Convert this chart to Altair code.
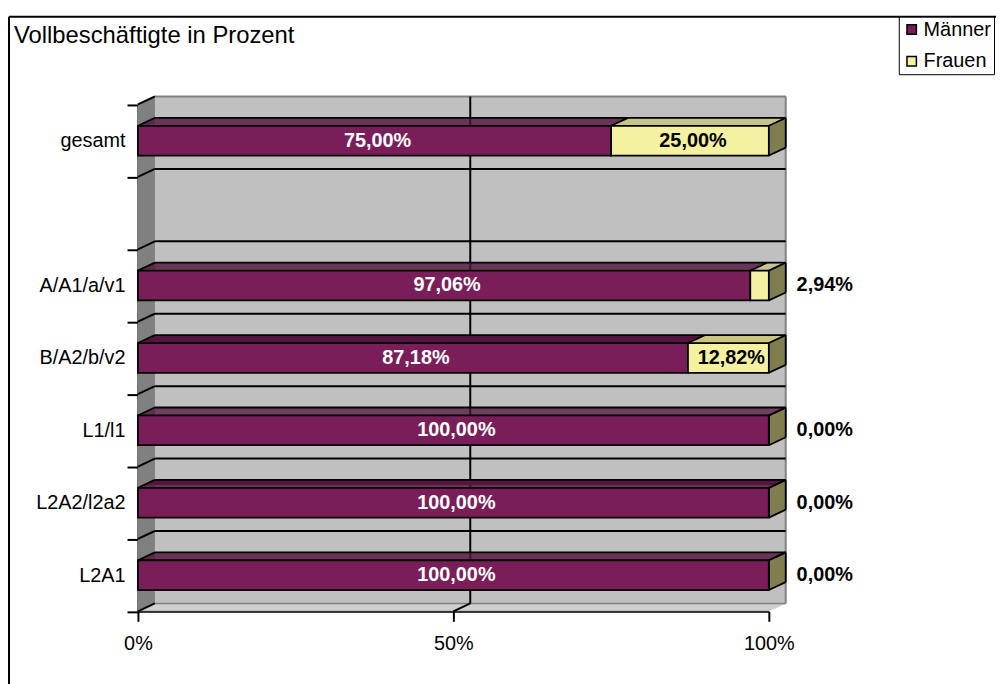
import altair as alt
import pandas as pd

# ---------------- data ----------------
categories = ["gesamt", " ", "A/A1/a/v1", "B/A2/b/v2", "L1/l1", "L2A2/l2a2", "L2A1"]
maenner = [75.00, None, 97.06, 87.18, 100.00, 100.00, 100.00]
frauen = [25.00, None, 2.94, 12.82, 0.00, 0.00, 0.00]
series = ["Männer", "Frauen"]
x_ticks = [0, 0.5, 1]
title_text = "Vollbeschäftigte in Prozent"

# ---------------- styles ----------------
FONT = "Liberation Sans"
C_M, C_M_TOP = "#7a1e5a", "#561440"
C_F, C_F_TOP, C_F_SIDE = "#f4f1a0", "#c9c67e", "#807f50"
WALL, SIDE, EDGE = "#c0c0c0", "#808080", "#808080"
DX, DY = 17, 8      # 3-D depth offset in px
HALF = 15           # half bar thickness in px
N = len(categories)

rows = []
for i, (cat, m, f) in enumerate(zip(categories, maenner, frauen)):
    if m is None:
        continue
    start = 0.0
    for s, v in zip(series, [m, f]):
        rows.append(dict(cat=cat, c=i + 0.5, series=s, xs=start / 100, xe=(start + v) / 100,
                         xm=(start + v / 2) / 100, w=v / 100,
                         label=f"{v:.2f}".replace(".", ",") + "%"))
        start += v
segs = pd.DataFrame(rows)
bounds = pd.DataFrame({"b": list(range(N + 1))})
one = pd.DataFrame({"k": [0]})
catdf = pd.DataFrame({"cat": categories})

XS = alt.Scale(domain=[0, 1], range=[130, 766], zero=False, nice=False)
YS = alt.Scale(domain=[0, N], range=[88.5, 599.5], zero=False, nice=False)
XAX = alt.Axis(values=x_ticks, format=".0%", title=None, orient="bottom", offset=-70.5,
               grid=False, domainColor="black", domainWidth=2, tickColor="black",
               tickWidth=2, tickSize=10, labelFont=FONT, labelFontSize=20,
               labelColor="black", labelPadding=12, labelFlush=False)
YAX = alt.Axis(title=None, orient="left", offset=-130, tickBand="extent", tickSize=11,
               tickWidth=2, tickColor="black", domainColor="black", domainWidth=2,
               labelFont=FONT, labelFontSize=20, labelColor="black", labelPadding=2,
               grid=False)


def xq(f):
    return alt.X(f, type="quantitative", scale=XS, axis=XAX)


def xd(v):
    return alt.XDatum(v, type="quantitative", scale=XS, axis=XAX)


def yq(f):
    return alt.Y(f, type="quantitative", scale=YS, axis=None)


def yd(v):
    return alt.YDatum(v, type="quantitative", scale=YS, axis=None)


layers = []

# back wall
layers.append(alt.Chart(one).mark_rect(color=WALL, xOffset=DX, x2Offset=DX, yOffset=-DY, y2Offset=-DY)
              .encode(x=xd(0), x2=alt.X2Datum(1), y=yd(0), y2=alt.Y2Datum(N)))
# floor
for k in range(DY):
    o = DX * (k + 0.5) / DY
    layers.append(alt.Chart(one).mark_rect(color=WALL, xOffset=o, x2Offset=o, yOffset=-(k + 1), y2Offset=-k)
                  .encode(x=xd(0), x2=alt.X2Datum(1), y=yd(N), y2=alt.Y2Datum(N)))
# side wall
for j in range(DX):
    o = -DY * (j + 0.5) / DX
    layers.append(alt.Chart(one).mark_rect(color=SIDE, xOffset=j, x2Offset=min(j + 2, DX), yOffset=o, y2Offset=o)
                  .encode(x=xd(0), x2=alt.X2Datum(0), y=yd(0), y2=alt.Y2Datum(N)))
# wall edges
layers.append(alt.Chart(one).mark_rule(color=EDGE, strokeWidth=2, xOffset=DX, yOffset=-DY, y2Offset=-DY)
              .encode(x=xd(1), y=yd(0), y2=alt.Y2Datum(N)))
layers.append(alt.Chart(one).mark_rule(color=EDGE, strokeWidth=2, xOffset=DX, x2Offset=DX, yOffset=-DY)
              .encode(x=xd(0), x2=alt.X2Datum(1), y=yd(0)))
layers.append(alt.Chart(one).mark_rule(color=EDGE, strokeWidth=1.5, xOffset=DX, x2Offset=DX, yOffset=-DY)
              .encode(x=xd(0), x2=alt.X2Datum(1), y=yd(N)))
# wall gridlines
layers.append(alt.Chart(bounds).transform_filter((alt.datum.b > 0) & (alt.datum.b < N))
              .mark_rule(color="black", strokeWidth=2, xOffset=DX, x2Offset=DX, yOffset=-DY)
              .encode(x=xd(0), x2=alt.X2Datum(1), y=yq("b")))
layers.append(alt.Chart(one).mark_rule(color="black", strokeWidth=2, xOffset=DX, yOffset=-DY, y2Offset=-DY)
              .encode(x=xd(0.5), y=yd(0), y2=alt.Y2Datum(N)))
layers.append(alt.Chart(one).mark_rule(color="black", strokeWidth=2, x2Offset=DX, y2Offset=-DY)
              .encode(x=xd(0.5), x2=alt.X2Datum(0.5), y=yd(N), y2=alt.Y2Datum(N)))
# side wall diagonals
layers.append(alt.Chart(bounds).mark_rule(color="black", strokeWidth=2, x2Offset=DX, y2Offset=-DY)
              .encode(x=xd(0), x2=alt.X2Datum(0), y=yq("b"), y2=alt.Y2("b")))

# bar top faces
top_color = alt.condition(alt.datum.series == "Männer", alt.value(C_M_TOP), alt.value(C_F_TOP))
for k in range(DY):
    o = DX * (k + 0.5) / DY
    layers.append(alt.Chart(segs).mark_rect(xOffset=o, x2Offset=o, yOffset=-HALF - (k + 1), y2Offset=-HALF - k)
                  .encode(x=xq("xs"), x2=alt.X2("xe"), y=yq("c"), y2=alt.Y2("c"), color=top_color))
# right faces (last segment)
for j in range(DX):
    o = -DY * (j + 0.5) / DX
    layers.append(alt.Chart(segs).transform_filter(alt.datum.series == "Frauen")
                  .mark_rect(color=C_F_SIDE, xOffset=j, x2Offset=min(j + 2, DX), yOffset=-HALF + o, y2Offset=HALF + o)
                  .encode(x=xq("xe"), x2=alt.X2("xe"), y=yq("c"), y2=alt.Y2("c")))
# front faces
layers.append(alt.Chart(segs).mark_rect(stroke="black", strokeWidth=1.8, yOffset=-HALF, y2Offset=HALF)
              .encode(x=xq("xs"), x2=alt.X2("xe"), y=yq("c"), y2=alt.Y2("c"),
                      color=alt.Color("series:N", scale=alt.Scale(domain=series, range=[C_M, C_F]),
                                      legend=alt.Legend(orient="none", legendX=897, legendY=0, title=None,
                                                        symbolType="square", symbolSize=90,
                                                        symbolStrokeColor="black", symbolStrokeWidth=1.5,
                                                        labelFont=FONT, labelFontSize=20, labelColor="black",
                                                        strokeColor="black", fillColor="white",
                                                        padding=3, rowPadding=12, labelOffset=2))))
# bar edges
E = dict(color="black", strokeWidth=1.8)
layers.append(alt.Chart(segs).mark_rule(xOffset=DX, x2Offset=DX, yOffset=-HALF - DY, **E)
              .encode(x=xq("xs"), x2=alt.X2("xe"), y=yq("c")))
layers.append(alt.Chart(segs).mark_rule(x2Offset=DX, yOffset=-HALF, y2Offset=-HALF - DY, **E)
              .encode(x=xq("xs"), x2=alt.X2("xs"), y=yq("c"), y2=alt.Y2("c")))
fr = alt.Chart(segs).transform_filter(alt.datum.series == "Frauen")
layers.append(fr.mark_rule(x2Offset=DX, yOffset=-HALF, y2Offset=-HALF - DY, **E)
              .encode(x=xq("xe"), x2=alt.X2("xe"), y=yq("c"), y2=alt.Y2("c")))
layers.append(fr.mark_rule(xOffset=DX, yOffset=-HALF - DY, y2Offset=HALF - DY, **E)
              .encode(x=xq("xe"), y=yq("c"), y2=alt.Y2("c")))
layers.append(fr.mark_rule(x2Offset=DX, yOffset=HALF, y2Offset=HALF - DY, **E)
              .encode(x=xq("xe"), x2=alt.X2("xe"), y=yq("c"), y2=alt.Y2("c")))

# value labels
lab_color = alt.condition(alt.datum.series == "Männer", alt.value("white"), alt.value("black"))
layers.append(alt.Chart(segs).transform_filter(alt.datum.w >= 0.1)
              .mark_text(font=FONT, fontSize=20, fontWeight="bold", align="center", baseline="middle", dx=3)
              .encode(x=xq("xm"), y=yq("c"), text="label:N", color=lab_color))
layers.append(alt.Chart(segs).transform_filter(alt.datum.w < 0.1)
              .mark_text(font=FONT, fontSize=20, fontWeight="bold", align="left", baseline="middle", dx=28, color="black")
              .encode(x=xq("xe"), y=yq("c"), text="label:N"))

# category axis
layers.append(alt.Chart(catdf).mark_point(opacity=0)
              .encode(y=alt.Y("cat:N", sort=categories,
                              scale=alt.Scale(type="band", domain=categories, range=[88.5, 599.5],
                                              paddingInner=0, paddingOuter=0),
                              axis=YAX)))

# title & frame
layers.append(alt.Chart(one).mark_text(text=title_text, font=FONT, fontSize=24, align="left",
                                       baseline="middle", color="black")
              .encode(x=alt.value(5), y=alt.value(20)))
layers.append(alt.Chart(one).mark_rule(color="black", strokeWidth=2)
              .encode(x=alt.value(0), y=alt.value(0), y2=alt.value(700)))
layers.append(alt.Chart(one).mark_rule(color="black", strokeWidth=2)
              .encode(x=alt.value(0), x2=alt.value(1000), y=alt.value(0)))

chart = (alt.layer(*layers)
         .resolve_scale(y="independent")
         .properties(width=995, height=670, autosize=alt.AutoSizeParams(type="none"),
                     padding={"left": 1, "top": 6, "right": 0, "bottom": 0})
         .configure_view(stroke=None))

chart.save("out.html", embed_options={"renderer": "svg", "actions": False})
